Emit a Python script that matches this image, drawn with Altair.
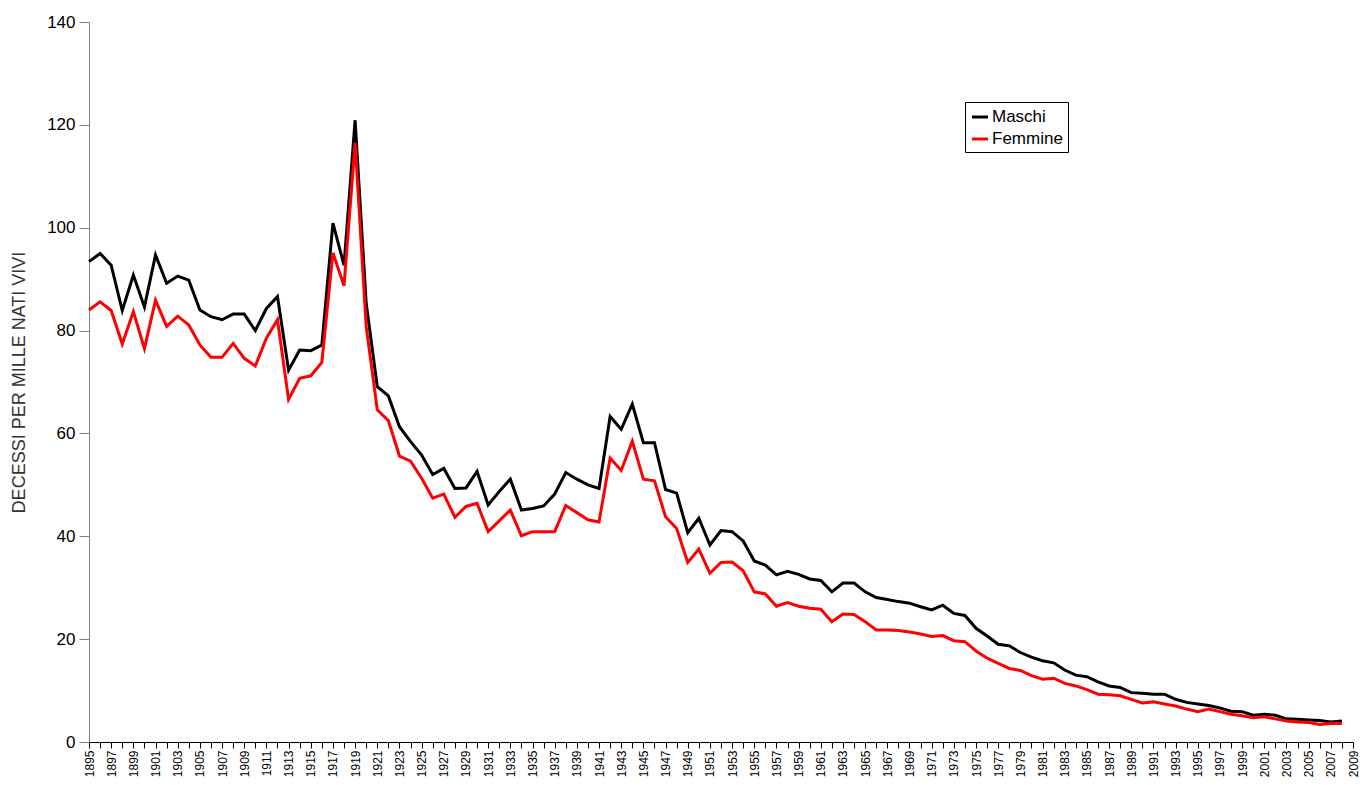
import altair as alt
import pandas as pd

years = list(range(1895, 2009))

maschi = [
    93.4, 95.0, 92.7, 83.9, 90.8, 84.6, 94.7, 89.2, 90.6, 89.8,
    84.0, 82.7, 82.1, 83.2, 83.2, 80.0, 84.3, 86.6, 72.3, 76.2,
    76.1, 77.2, 100.9, 92.7, 120.9, 85.3, 69.1, 67.3, 61.3, 58.4,
    55.8, 52.0, 53.2, 49.3, 49.4, 52.6, 46.1, 48.7, 51.1, 45.1,
    45.4, 45.9, 48.2, 52.4, 51.1, 50.0, 49.3, 63.3, 60.8, 65.7,
    58.2, 58.2, 49.1, 48.4, 40.7, 43.5, 38.3, 41.1, 40.9, 39.1,
    35.2, 34.4, 32.5, 33.2, 32.6, 31.7, 31.4, 29.2, 30.9, 30.9,
    29.2, 28.1, 27.7, 27.3, 27.0, 26.3, 25.7, 26.6, 25.0, 24.6,
    22.1, 20.6, 19.0, 18.7, 17.4, 16.5, 15.8, 15.4, 14.0, 13.0,
    12.7, 11.7, 10.9, 10.6, 9.6, 9.5, 9.3, 9.3, 8.3, 7.7,
    7.4, 7.1, 6.6, 6.0, 5.9, 5.2, 5.4, 5.2, 4.5, 4.4,
    4.3, 4.2, 3.9, 4.1,
]

femmine = [
    84.0, 85.6, 83.9, 77.4, 83.7, 76.5, 85.9, 80.8, 82.8, 81.1,
    77.2, 74.8, 74.8, 77.5, 74.6, 73.1, 78.5, 82.1, 66.6, 70.7,
    71.2, 73.8, 95.1, 88.7, 116.5, 80.8, 64.6, 62.5, 55.6, 54.6,
    51.3, 47.4, 48.2, 43.7, 45.8, 46.4, 40.9, 43.0, 45.1, 40.1,
    40.9, 40.9, 40.9, 46.0, 44.6, 43.2, 42.8, 55.2, 52.8, 58.5,
    51.1, 50.8, 43.8, 41.5, 34.9, 37.5, 32.8, 34.9, 35.0, 33.3,
    29.2, 28.8, 26.4, 27.1, 26.4, 26.0, 25.8, 23.4, 24.9, 24.8,
    23.4, 21.8, 21.8, 21.7, 21.4, 21.0, 20.5, 20.7, 19.7, 19.5,
    17.7, 16.3, 15.3, 14.3, 13.9, 12.9, 12.2, 12.4, 11.4, 10.9,
    10.2, 9.3, 9.2, 9.0, 8.3, 7.6, 7.8, 7.4, 7.0, 6.4,
    5.9, 6.4, 5.9, 5.4, 5.1, 4.7, 4.9, 4.5, 4.1, 3.9,
    3.8, 3.4, 3.6, 3.6,
]

series_names = ["Maschi", "Femmine"]
series_colors = ["#000000", "#FF0000"]
tick_years = list(range(1895, 2010))
y_ticks = [0, 20, 40, 60, 80, 100, 120, 140]

rows = []
for name, vals in zip(series_names, [maschi, femmine]):
    for yr, v in zip(years, vals):
        rows.append({"anno": yr, "valore": v, "sesso": name})
df = pd.DataFrame(rows)

chart = alt.Chart(df).mark_line(strokeWidth=3, strokeJoin="miter").encode(
    x=alt.X(
        "anno:Q",
        scale=alt.Scale(domain=[1895, 2009], nice=False, zero=False),
        axis=alt.Axis(
            values=tick_years,
            labelExpr="datum.value % 2 == 1 ? datum.value : ''",
            labelAngle=-90,
            labelAlign="right",
            labelBaseline="middle",
            labelFontSize=12,
            labelFont="Liberation Sans",
            labelColor="#000000",
            labelPadding=2,
            labelOverlap=False,
            labelFlush=False,
            domainColor="#000000",
            tickColor="#000000",
            tickSize=6,
            grid=False,
            title=None,
        ),
    ),
    y=alt.Y(
        "valore:Q",
        scale=alt.Scale(domain=[0, 140], nice=False),
        axis=alt.Axis(
            values=y_ticks,
            labelFontSize=17,
            labelFont="Liberation Sans",
            labelColor="#000000",
            labelPadding=4,
            domainColor="#808080",
            tickColor="#808080",
            tickSize=10,
            grid=False,
            title="DECESSI PER MILLE NATI VIVI",
            titleFont="Liberation Sans",
            titleFontSize=18,
            titleFontWeight="normal",
            titleColor="#333333",
            titlePadding=18,
        ),
    ),
    color=alt.Color(
        "sesso:N",
        scale=alt.Scale(domain=series_names, range=series_colors),
        legend=alt.Legend(
            title=None,
            orient="none",
            legendX=876,
            legendY=80,
            symbolType="stroke",
            symbolStrokeWidth=3,
            symbolSize=260,
            labelFontSize=17,
            labelFont="Liberation Sans",
            labelColor="#000000",
            strokeColor="#000000",
            padding=5,
            rowPadding=4,
            labelOffset=2,
            fillColor="#FFFFFF",
        ),
    ),
).properties(
    width=1264,
    height=720,
    autosize=alt.AutoSizeParams(type="none"),
    padding={"left": 81, "top": 14, "right": 6, "bottom": 36},
).configure_view(stroke=None)

chart.save("out.html", embed_options={"renderer": "svg", "actions": False})
